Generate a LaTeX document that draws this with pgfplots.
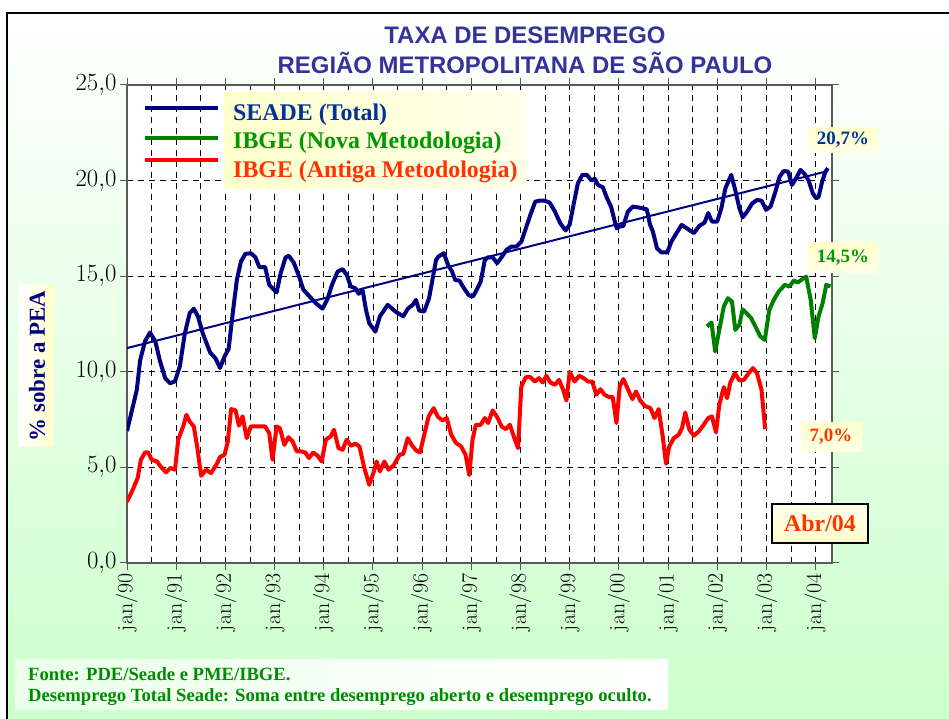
\documentclass[border=0pt]{standalone}
\usepackage{pgfplots}
\pgfplotsset{compat=1.18}
\usepackage{fontspec}
\newfontfamily\arialf{Liberation Sans}
\newfontfamily\timesf{Liberation Serif}
\definecolor{navy}{RGB}{0,0,128}
\definecolor{dgreen}{RGB}{0,128,0}
\definecolor{titleblue}{RGB}{51,51,153}
\definecolor{legblue}{RGB}{0,51,153}
\definecolor{leggreen}{RGB}{0,153,0}
\definecolor{orred}{RGB}{255,51,0}
\definecolor{bggreen}{RGB}{204,255,204}
\definecolor{lyellow}{RGB}{255,255,204}
\definecolor{footgreen}{RGB}{0,140,0}
\definecolor{axgray}{RGB}{90,90,90}
\begin{document}
\begin{tikzpicture}[x=1bp,y=1bp]
\useasboundingbox (0,0) rectangle (949,719);
\fill[white] (0,0) rectangle (949,719);
\shade[top color=white, bottom color=bggreen] (7,0) rectangle (949,706);
\draw[line width=2.5bp] (7,0) -- (7,706) -- (949,706);
% y label box
\shade[left color=white, right color=lyellow] (18,272) rectangle (54,434);
\node[rotate=90, font=\timesf\bfseries\fontsize{23}{23}\selectfont, text=navy] at (37,353) {\% sobre a PEA};
% footer
\shade[left color=bggreen!40!white, right color=white] (15,9) rectangle (668,59);
\node[anchor=base west, font=\timesf\bfseries\fontsize{18.7}{18.7}\selectfont, text=footgreen, inner sep=0pt] at (28,38) {Fonte: PDE/Seade e PME/IBGE.};
\node[anchor=base west, font=\timesf\bfseries\fontsize{18.7}{18.7}\selectfont, text=footgreen, inner sep=0pt] at (28,17) {Desemprego Total Seade: Soma entre desemprego aberto e desemprego oculto.};
% title
\node[font=\arialf\bfseries\fontsize{24}{24}\selectfont, text=titleblue] at (525,684) {TAXA DE DESEMPREGO};
\node[font=\arialf\bfseries\fontsize{24}{24}\selectfont, text=titleblue] at (525,656) {REGIÃO METROPOLITANA DE SÃO PAULO};
\begin{axis}[at={(127bp,156bp)}, anchor=south west, scale only axis,
  width=705bp, height=478bp,
  xmin=0, xmax=172, ymin=0, ymax=25,
  axis background/.style={fill=white},
  axis line style={draw=axgray, line width=1.2bp},
  xtick={0,12,...,168},
  xticklabels={jan/90,jan/91,jan/92,jan/93,jan/94,jan/95,jan/96,jan/97,jan/98,jan/99,jan/00,jan/01,jan/02,jan/03,jan/04},
  minor xtick={6,18,...,162},
  ytick={0,5,...,25},
  grid=both,
  major grid style={black, line width=0.8bp, dash pattern=on 6bp off 5bp},
  minor grid style={black, line width=0.8bp, dash pattern=on 6bp off 5bp},
  xticklabel style={rotate=90, anchor=east, font=\fontsize{22}{22}\selectfont},
  yticklabel style={font=\fontsize{23}{23}\selectfont},
  tick align=outside, major tick length=7bp, minor tick length=0pt,
  tick style={axgray, line width=1bp},
  y tick label style={/pgf/number format/.cd, fixed, fixed zerofill, precision=1, use comma},
]
\addplot[navy, line width=2bp] coordinates {(0,11.24) (171,20.5)};
\addplot[red, line width=4bp, line join=round] coordinates {
(0,3.2)(1.4,3.83)(2.6,4.44)(3.4,5.4)(4.4,5.78)(5.2,5.78)(6,5.4)(7.3,5.31)(8.2,5.05)(9.5,4.74)(10.6,4.97)(11.7,4.88)(12.5,6.45)(13.7,7.14)(14.5,7.75)(15.3,7.4)(16.3,7.14)(17.1,6.1)(18.1,4.56)(19.3,4.88)(20.5,4.7)(21.8,5.14)(22.7,5.54)(23.8,5.66)(24.6,6.36)(25.4,8.05)(26.5,7.98)(27.3,7.18)(28.2,7.67)(29.2,6.53)(30.2,7.14)(31.5,7.14)(33.7,7.14)(34.7,6.79)(35.5,5.4)(36.5,7.14)(37.3,7.05)(38.4,6.18)(39.4,6.58)(40.4,6.36)(41.4,5.84)(42.4,5.84)(43.5,5.78)(44.4,5.49)(45.4,5.78)(46.5,5.61)(47.5,5.31)(48.5,6.45)(49.7,6.62)(50.5,6.97)(51.6,6.01)(52.6,5.92)(53.6,6.45)(54.6,6.13)(55.7,6.24)(56.7,6.1)(57.9,4.97)(59.1,4.09)(60.1,4.7)(60.9,5.31)(61.7,4.79)(62.8,5.31)(63.8,4.88)(65,5.09)(66.5,5.66)(67.4,5.71)(68.5,6.53)(69.6,6.13)(70.5,5.89)(71.5,5.78)(72.6,6.79)(73.6,7.67)(74.8,8.1)(75.9,7.63)(77,7.46)(78,7.58)(79.1,6.71)(80.3,6.27)(81.5,6.1)(82.6,5.66)(83.5,4.6)(84.3,6.45)(85.1,7.23)(86.3,7.23)(87.3,7.58)(88.1,7.32)(89.2,7.98)(90.2,7.67)(91.4,7.14)(92.4,7.0)(93.4,7.23)(94.5,6.53)(95.4,6.01)(96.2,9.23)(97.3,9.72)(98.4,9.72)(99.5,9.49)(100.5,9.67)(101.4,9.44)(102.3,9.79)(103.3,9.44)(104.4,9.32)(105.4,9.58)(106.4,9.06)(107.2,8.5)(108,10.0)(109.2,9.49)(110.3,9.79)(111.4,9.67)(112.5,9.49)(113.5,9.49)(114.5,8.8)(115.5,9.09)(116.5,8.8)(117.6,8.68)(118.5,8.68)(119.4,7.32)(120.2,9.23)(121.1,9.62)(122.2,9.09)(123.3,8.57)(124.2,8.97)(125.2,8.5)(126.3,8.22)(127.7,8.1)(128.7,7.58)(129.7,8.05)(130.7,6.62)(131.5,5.19)(132.3,6.1)(133.4,6.53)(134.6,6.71)(135.4,7.05)(136.2,7.87)(137.2,6.97)(138.3,6.66)(139.5,6.88)(140.7,7.23)(141.8,7.58)(142.7,7.67)(143.7,6.83)(144.5,8.27)(145.6,9.2)(146.4,8.62)(147.2,9.44)(148.3,9.93)(149.4,9.55)(150.5,9.58)(151.7,9.93)(152.7,10.19)(153.7,9.93)(154.8,9.06)(155.7,7.0)};
\addplot[dgreen, line width=4bp, line join=round] coordinates {
(141.5,12.37)(142.6,12.58)(143.5,11.06)(144.5,12.19)(145.6,13.41)(146.6,13.85)(147.6,13.67)(148.4,12.19)(149.4,12.46)(150.2,13.27)(151.3,13.03)(152.3,12.8)(153.3,12.37)(154.5,11.85)(155.6,11.67)(156.7,13.24)(157.8,13.76)(159,14.2)(160.5,14.55)(161.6,14.46)(162.7,14.77)(163.7,14.67)(164.7,14.84)(165.7,14.98)(166.8,13.76)(167.8,11.76)(168.7,12.89)(169.7,13.58)(170.6,14.55)(171.6,14.46)};
\addplot[navy, line width=4bp, line join=round] coordinates {
(0,6.9)(2.4,9.06)(3.2,10.6)(4.4,11.6)(5.6,12.05)(6.9,11.6)(8,10.6)(9.3,9.67)(10.5,9.4)(11.7,9.5)(12.9,10.3)(14.1,12.0)(15.3,13.07)(16.3,13.3)(17.3,12.9)(18.5,12.0)(20.3,11.0)(21.6,10.7)(22.7,10.2)(23.8,10.8)(24.8,11.2)(25.8,13.07)(26.8,14.8)(27.8,15.77)(28.9,16.17)(30.2,16.2)(31.3,16.0)(32.3,15.47)(33.7,15.47)(34.7,14.55)(36.5,14.15)(37.5,15.16)(38.7,15.99)(39.5,16.06)(40.7,15.7)(42,14.98)(43,14.3)(44.4,13.97)(46,13.6)(47.7,13.3)(48.9,13.8)(50.1,14.6)(51.4,15.24)(52.6,15.37)(53.6,15.07)(54.6,14.46)(55.7,14.37)(56.5,14.08)(57.5,14.25)(58.3,13.24)(59.1,12.54)(60.6,12.1)(61.7,12.9)(63.6,13.5)(65.5,13.15)(67.4,12.9)(68.5,13.3)(69.7,13.5)(70.5,13.76)(71.3,13.2)(72.5,13.15)(73.7,13.85)(74.5,14.8)(75.4,15.85)(76,16.03)(77.3,16.2)(78.3,15.6)(79.3,15.24)(80.1,14.8)(81.1,14.77)(82.2,14.37)(83.4,14.0)(84.4,13.94)(85.1,14.2)(86.3,14.72)(87.3,15.85)(88.1,15.99)(89.2,15.99)(90.3,15.68)(91.4,16.0)(92.6,16.38)(93.8,16.55)(95,16.55)(96.2,16.8)(97.3,17.5)(98.4,18.2)(99.6,18.9)(100.7,18.95)(101.9,18.95)(103.1,18.85)(104.4,18.38)(105.7,17.77)(107,17.39)(108,17.7)(109,18.8)(110,19.86)(111.1,20.3)(112.2,20.3)(113.3,20.0)(114.1,20.1)(114.9,19.77)(116.1,19.65)(117.1,19.08)(118.1,18.64)(118.9,17.94)(119.5,17.5)(120.2,17.6)(121.1,17.63)(122.2,18.38)(123.4,18.64)(124.6,18.6)(125.8,18.55)(126.8,18.5)(127.6,17.7)(128.3,17.33)(129.3,16.46)(130.4,16.24)(131.8,16.24)(132.8,16.8)(133.8,17.16)(135.3,17.68)(136.6,17.5)(138.3,17.25)(139.6,17.63)(140.9,17.8)(141.8,18.3)(142.7,17.86)(144,17.86)(145,18.55)(146,19.6)(147.4,20.3)(148.4,19.5)(149.4,18.55)(150.2,18.08)(151.3,18.38)(152.5,18.8)(153.7,18.99)(154.8,18.95)(155.9,18.47)(157,18.64)(158.2,19.42)(159.2,20.2)(160.2,20.5)(161.3,20.47)(162.2,19.77)(163.2,20.1)(164.3,20.56)(165.3,20.35)(166.3,20.0)(167.3,19.34)(168.1,19.08)(168.7,19.13)(169.6,19.95)(170.4,20.47)(171,20.65)};
\end{axis}
% legend
\shade[left color=lyellow, right color=lyellow!40!white] (224,530) rectangle (527,626);
\draw[navy, line width=4.5bp] (145,611) -- (218,611);
\draw[dgreen, line width=4.5bp] (145,581) -- (218,581);
\draw[red, line width=4.5bp] (145,559) -- (218,559);
\node[anchor=west, font=\timesf\bfseries\fontsize{24}{24}\selectfont, text=legblue, inner sep=0pt] at (233,604) {SEADE (Total)};
\node[anchor=west, font=\timesf\bfseries\fontsize{24}{24}\selectfont, text=leggreen, inner sep=0pt] at (233,576) {IBGE (Nova Metodologia)};
\node[anchor=west, font=\timesf\bfseries\fontsize{24}{24}\selectfont, text=orred, inner sep=0pt] at (233,547) {IBGE (Antiga Metodologia)};
% annotations
\shade[top color=lyellow, bottom color=lyellow!50!white] (808,566) rectangle (878,591);
\node[font=\timesf\bfseries\fontsize{19}{19}\selectfont, text=legblue] at (843,579) {20,7\%};
\shade[top color=lyellow, bottom color=lyellow!50!white] (808,446) rectangle (878,476);
\node[font=\timesf\bfseries\fontsize{19}{19}\selectfont, text=leggreen] at (843,461) {14,5\%};
\shade[top color=lyellow, bottom color=lyellow!50!white] (801,267) rectangle (862,296);
\node[font=\timesf\bfseries\fontsize{19}{19}\selectfont, text=orred] at (831,282) {7,0\%};
\shade[top color=lyellow!40!white, bottom color=lyellow] (772,176) rectangle (868,215);
\draw[line width=1.5bp] (772,176) rectangle (868,215);
\node[font=\timesf\bfseries\fontsize{24}{24}\selectfont, text=orred] at (820,196) {Abr/04};
\end{tikzpicture}
\end{document}
